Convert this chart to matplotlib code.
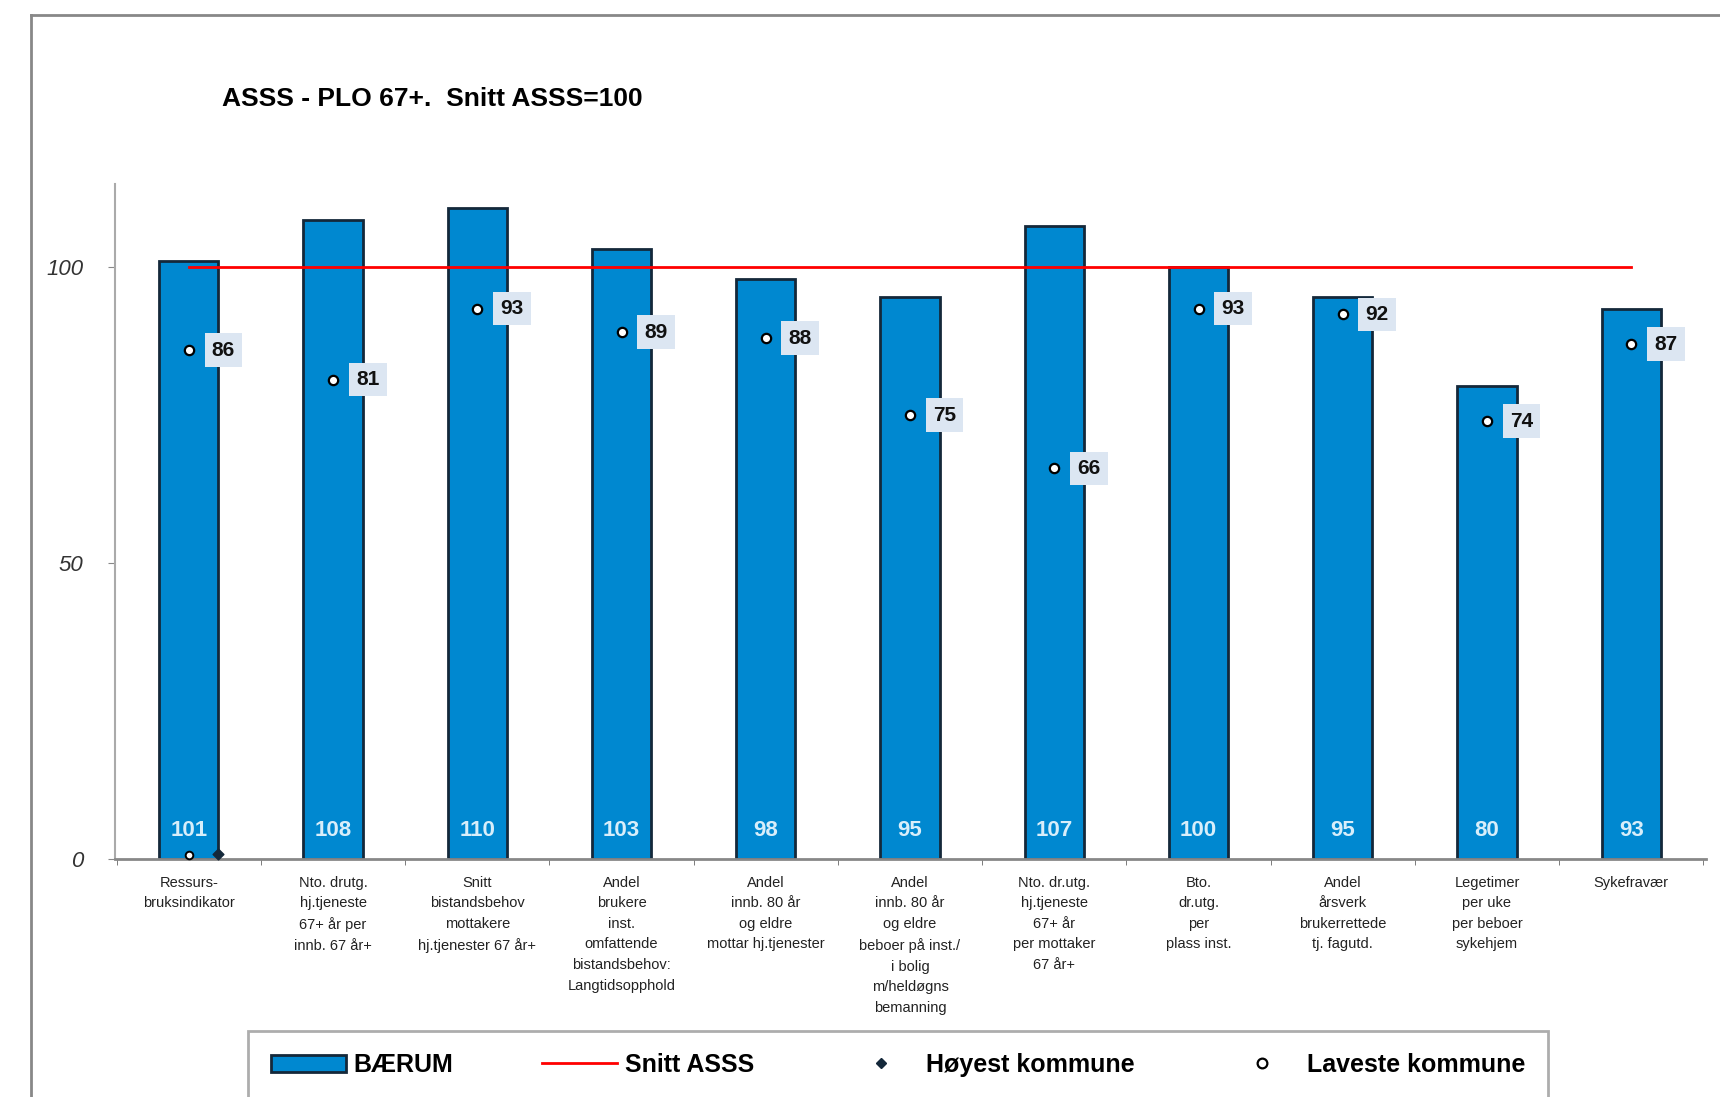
import matplotlib
matplotlib.use("Agg")
import matplotlib.pyplot as plt
from matplotlib.lines import Line2D
from matplotlib.patches import Patch
import numpy as np

plt.rcParams['font.family'] = ['Liberation Sans', 'DejaVu Sans']

# data
categories = [
    "Ressurs-\nbruksindikator",
    "Nto. drutg.\nhj.tjeneste\n67+ år per\ninnb. 67 år+",
    "Snitt\nbistandsbehov\nmottakere\nhj.tjenester 67 år+",
    "Andel\nbrukere\ninst.\nomfattende\nbistandsbehov:\nLangtidsopphold",
    "Andel\ninnb. 80 år\nog eldre\nmottar hj.tjenester",
    "Andel\ninnb. 80 år\nog eldre\nbeboer på inst./\ni bolig\nm/heldøgns\nbemanning",
    "Nto. dr.utg.\nhj.tjeneste\n67+ år\nper mottaker\n67 år+",
    "Bto.\ndr.utg.\nper\nplass inst.",
    "Andel\nårsverk\nbrukerrettede\ntj. fagutd.",
    "Legetimer\nper uke\nper beboer\nsykehjem",
    "Sykefravær",
]
baerum = [101, 108, 110, 103, 98, 95, 107, 100, 95, 80, 93]
laveste = [86, 81, 93, 89, 88, 75, 66, 93, 92, 74, 87]
snitt = 100

fig = plt.figure(figsize=(17.2, 10.97), dpi=100)
ax = fig.add_axes([0.067, 0.217, 0.925, 0.615])

x = np.arange(len(categories))
ax.bar(x, baerum, width=0.41, color='#0088d0', edgecolor='#14283a', linewidth=2, zorder=2)
ax.plot([x[0], x[-1]], [snitt, snitt], color='#ff0000', lw=2, zorder=3)

ax.scatter(x, laveste, s=45, facecolor='white', edgecolor='black', linewidth=1.6, zorder=4)
for xi, v in zip(x, laveste):
    ax.text(xi + 0.24, v, str(v), ha='center', va='center', fontsize=15, fontweight='bold',
            color='#111111',
            bbox=dict(boxstyle='square,pad=0.35', fc='#dce6f2', ec='none'), zorder=5)
for xi, v in zip(x, baerum):
    ax.text(xi, 4.8, str(v), ha='center', va='center', fontsize=16, fontweight='bold',
            color='#d8eefa', zorder=5)

# stray markers at first bar bottom
ax.scatter([0], [0.6], s=30, facecolor='white', edgecolor='black', linewidth=1.4, zorder=4, clip_on=False)
ax.scatter([0.2], [0.8], s=30, marker='D', color='#14283a', zorder=4, clip_on=False)

ax.set_xlim(-0.51, 10.52)
ax.set_ylim(0, 114)
ax.set_yticks([0, 50, 100])
ax.set_yticklabels(['0', '50', '100'], fontsize=16, style='italic', color='#333333')
ax.tick_params(axis='y', length=5, color='#888888', pad=18)
ax.set_xticks(x)
ax.set_xticklabels(categories, fontsize=10.5, color='#222222', linespacing=1.6, va='top')
ax.tick_params(axis='x', length=0, pad=12)
ax.set_xticks(np.arange(-0.5, 10.6, 1), minor=True)
ax.tick_params(axis='x', which='minor', length=4, color='#666666')
for s in ['top', 'right']:
    ax.spines[s].set_visible(False)
ax.spines['left'].set_color('#aaaaaa')
ax.spines['bottom'].set_color('#888888')
ax.spines['left'].set_linewidth(1.5)
ax.spines['bottom'].set_linewidth(2)

fig.text(0.129, 0.91, "ASSS - PLO 67+.  Snitt ASSS=100", fontsize=19, fontweight='bold',
         ha='left', va='center')

# outer frame (top and left)
fig.add_artist(Line2D([0.018, 1.0], [0.986, 0.986], color='#888888', lw=2))
fig.add_artist(Line2D([0.018, 0.018], [0.0, 0.986], color='#888888', lw=2))

handles = [
    Patch(facecolor='#0088d0', edgecolor='#14283a', linewidth=2),
    Line2D([], [], color='#ff0000', lw=2),
    Line2D([], [], marker='D', color='#14283a', ls='none', markersize=5),
    Line2D([], [], marker='o', mfc='white', mec='black', ls='none', markersize=7, mew=1.6),
]
labels = ["BÆRUM", "Snitt ASSS", "Høyest kommune", "Laveste kommune"]
leg = fig.legend(handles, labels, loc='center', ncol=4, bbox_to_anchor=(0.137, -0.01, 0.77, 0.078),
                 mode='expand', prop={'weight': 'bold', 'size': 18}, frameon=True,
                 fancybox=False, handlelength=3, handletextpad=0.3, borderpad=0.9)
leg.get_frame().set_edgecolor('#999999')
leg.get_frame().set_linewidth(2)

fig.savefig('out.png', dpi=100)
